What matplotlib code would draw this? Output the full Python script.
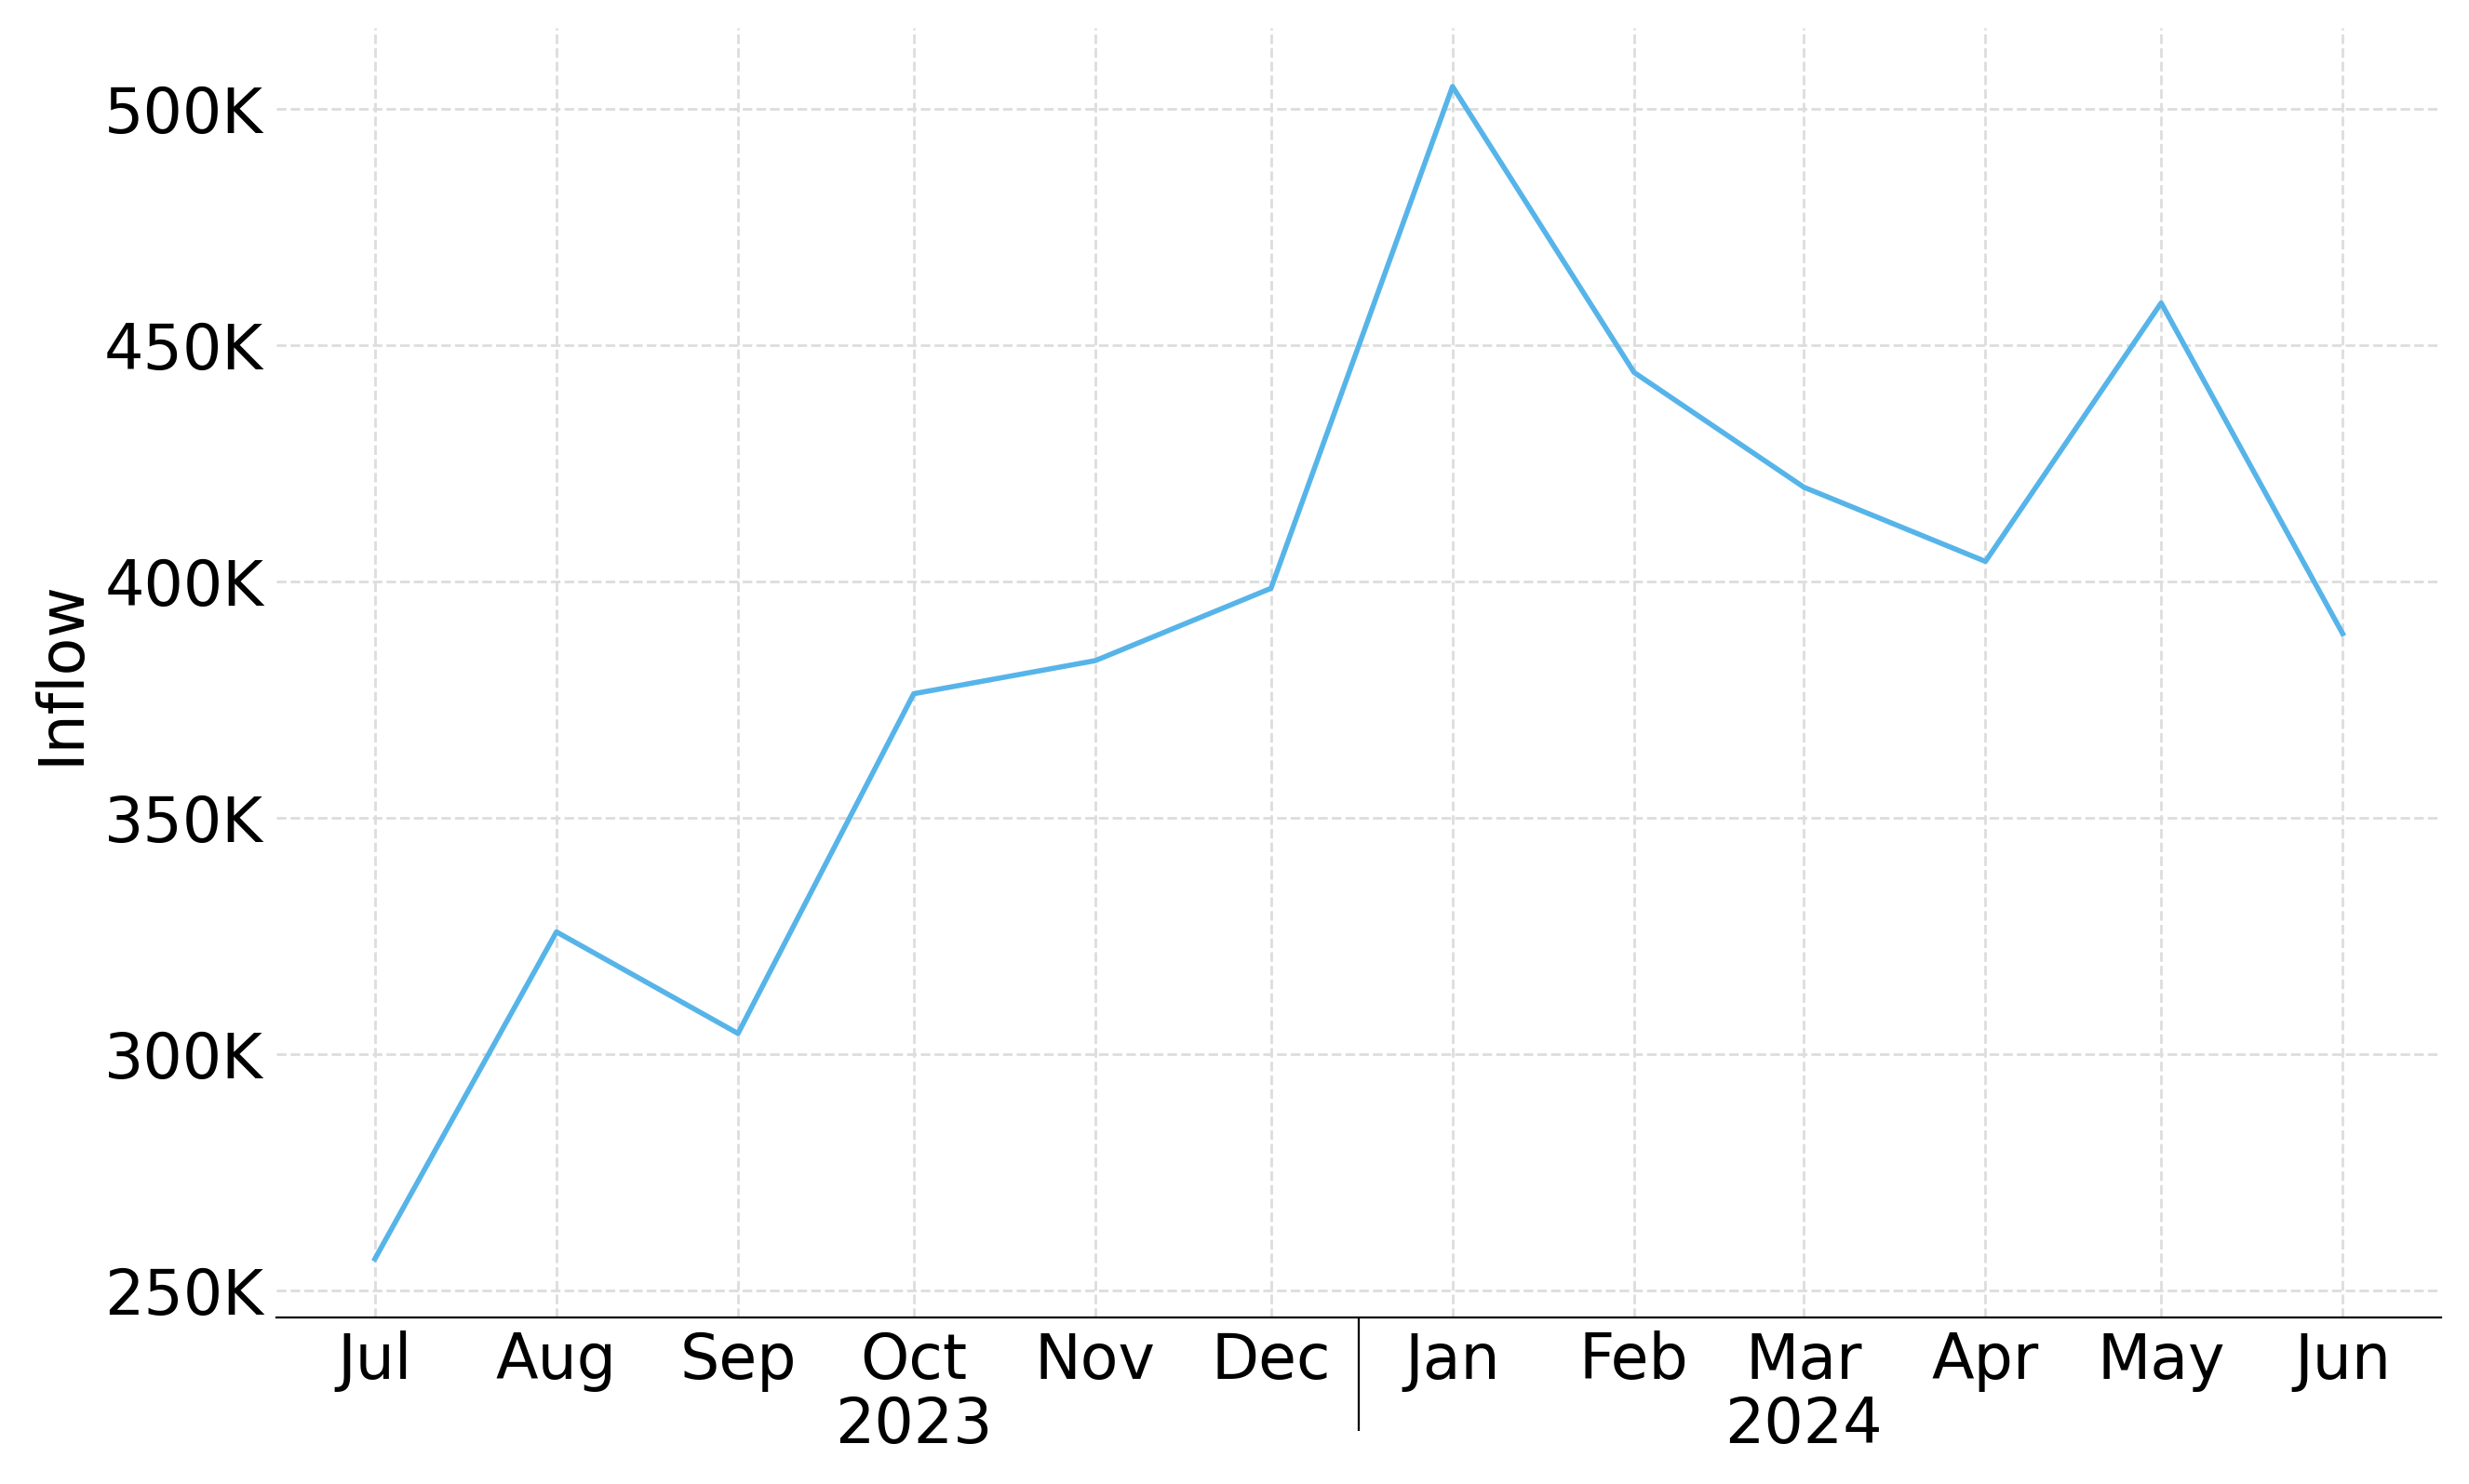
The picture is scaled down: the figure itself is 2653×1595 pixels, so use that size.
import datetime

import matplotlib
matplotlib.use('Agg')
import matplotlib.pyplot as plt
import matplotlib.dates as mdates
import matplotlib.ticker as mticker

months = [datetime.date(2023, m, 1) for m in range(7, 13)] + \
         [datetime.date(2024, m, 1) for m in range(1, 7)]
inflow = [256.7, 325.9, 304.4, 376.3, 383.3, 398.6,
          504.8, 444.3, 420.0, 404.3, 459.0, 389.0]  # thousands
inflow = [v * 1000 for v in inflow]

year_labels = ['2023', '2024']
year_pos = [datetime.date(2023, 10, 1), datetime.date(2024, 3, 1)]
year_split = datetime.date(2023, 12, 16)

plt.rcParams['font.family'] = 'DejaVu Sans'
plt.rcParams['font.size'] = 24

fig = plt.figure(figsize=(13.265, 7.975), dpi=200)
ax = fig.add_axes([0.112, 0.1122, 0.8767, 0.869])

ax.plot(months, inflow, color='#56B4E9', linewidth=2)

ax.grid(True, linestyle='--', color='#dddddd', linewidth=1)
ax.set_axisbelow(True)
for s in ['top', 'right', 'left']:
    ax.spines[s].set_visible(False)
ax.spines['bottom'].set_linewidth(0.8)

ax.xaxis.set_major_locator(mdates.MonthLocator())
ax.xaxis.set_major_formatter(mdates.DateFormatter('%b'))
ax.yaxis.set_major_locator(mticker.MultipleLocator(50000))
ax.yaxis.set_major_formatter(mticker.FuncFormatter(lambda v, p: f'{v / 1000:.0f}K'))
ax.tick_params(axis='both', length=0, labelsize=24)
ax.tick_params(axis='x', pad=5)
ax.tick_params(axis='y', pad=5)
ax.set_ylabel('Inflow', fontsize=24, labelpad=5)

# year row under the months
sec = ax.secondary_xaxis(location=0)
sec.set_xticks(year_pos, labels=year_labels)
sec.tick_params('x', length=0, pad=30, labelsize=24)
sec.spines['bottom'].set_visible(False)

# separator between years
sep = ax.secondary_xaxis(location=0)
sep.set_xticks([year_split - datetime.timedelta(hours=12)], labels=[])
sep.tick_params('x', length=44, width=0.8, color='black')
sep.spines['bottom'].set_visible(False)

plt.savefig('out.png', dpi=200)
